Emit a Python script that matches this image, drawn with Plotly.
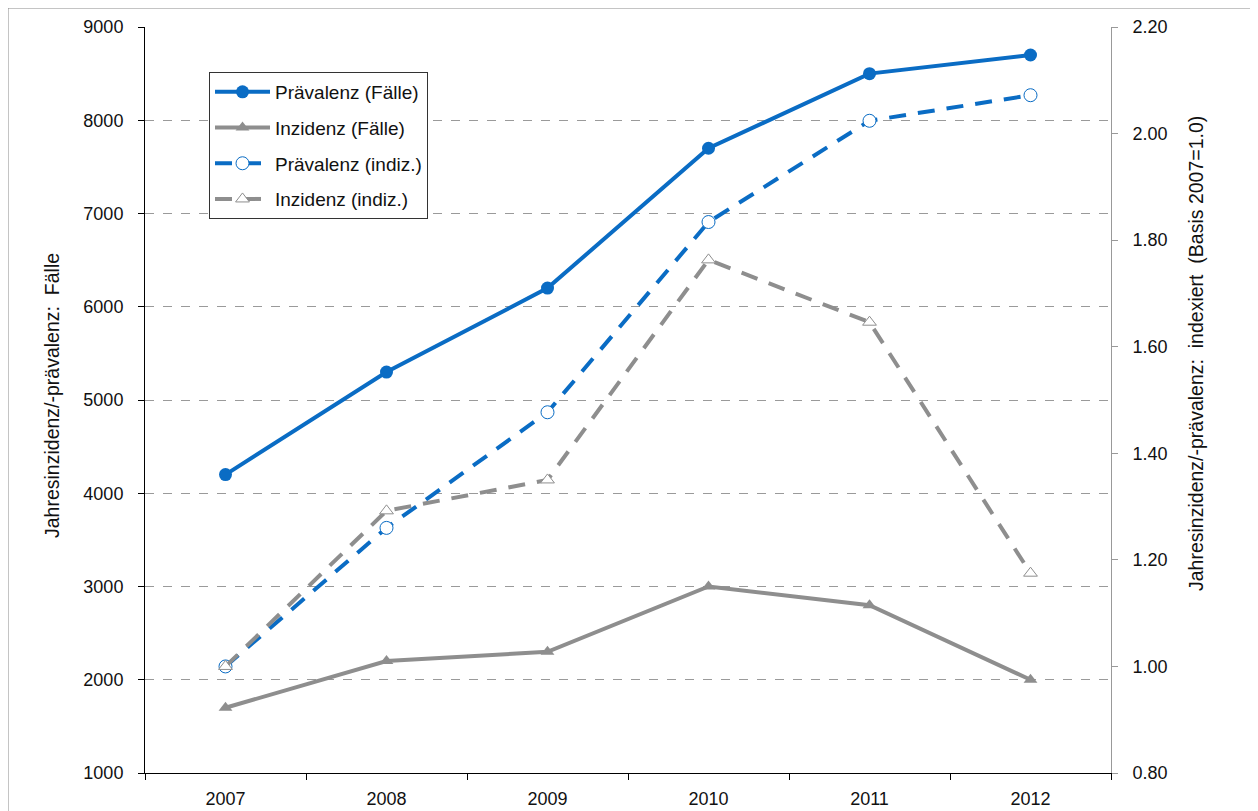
import plotly.graph_objects as go

years = ["2007", "2008", "2009", "2010", "2011", "2012"]
prev_cases = [4200, 5300, 6200, 7700, 8500, 8700]
inz_cases = [1700, 2200, 2300, 3000, 2800, 2000]
prev_index = [1.00, 1.26, 1.477, 1.834, 2.024, 2.072]
inz_index = [1.00, 1.292, 1.35, 1.763, 1.646, 1.175]

BLUE = "#0A6CC4"
GRAY = "#8E8E8E"
FONT = "Liberation Sans, Arial, sans-serif"
DASH = "17px,12px"

fig = go.Figure()
fig.add_trace(go.Scatter(x=years, y=prev_cases, name="Prävalenz (Fälle)", mode="lines+markers", legendgroup="a",
                         line=dict(color=BLUE, width=4), marker=dict(symbol="circle", size=13, color=BLUE)))
fig.add_trace(go.Scatter(x=years, y=inz_cases, name="Inzidenz (Fälle)", mode="lines+markers", legendgroup="b",
                         line=dict(color=GRAY, width=4), marker=dict(symbol="triangle-up", size=12, color=GRAY)))
fig.add_trace(go.Scatter(x=years, y=prev_index, name="Prävalenz (indiz.)", mode="lines+markers", yaxis="y2", legendgroup="c",
                         line=dict(color=BLUE, width=4, dash=DASH),
                         marker=dict(symbol="circle", size=13, color="white", line=dict(color=BLUE, width=1))))
fig.add_trace(go.Scatter(x=years, y=inz_index, name="Inzidenz (indiz.)", mode="lines+markers", yaxis="y2", legendgroup="d",
                         line=dict(color=GRAY, width=4, dash=DASH),
                         marker=dict(symbol="triangle-up", size=12, color="white", line=dict(color=GRAY, width=1))))

# page is offset by the browser's 8px body margin
OFF = 8
W, H = 1258 - OFF, 811 - OFF
PL, PR, PT, PB = 145, 1111, 27, 773  # plot area in page coordinates
L = PL - OFF
R = W - (PR - OFF)
T = PT - OFF
B = H - (PB - OFF)
pw = W - L - R
ph = H - T - B

def px(x):
    return (x - OFF - L) / pw

def py(y):
    return (H - B - (y - OFF)) / ph

fig.update_layout(
    width=W, height=H,
    margin=dict(l=L, r=R, t=T, b=B, pad=0, autoexpand=False),
    paper_bgcolor="white", plot_bgcolor="white",
    font=dict(family=FONT, size=18, color="#111"),
    showlegend=True,
    legend=dict(x=px(209), y=py(72), xanchor="left", yanchor="top",
                bordercolor="#333", borderwidth=1, bgcolor="white",
                font=dict(size=19), tracegroupgap=8, itemwidth=55),
    xaxis=dict(type="category", tickson="boundaries", ticks="outside", ticklen=6, tickcolor="#000",
               showline=True, linecolor="#000", linewidth=1, showgrid=False, automargin=False,
               range=[-0.5, 5.5], tickfont=dict(size=18), ticklabelstandoff=9),
    yaxis=dict(range=[1000, 9000], dtick=1000, ticks="outside", ticklen=6, tickcolor="#000",
               showline=True, linecolor="#000", linewidth=1, automargin=False,
               showgrid=True, gridcolor="#9a9a9a", griddash="dash", gridwidth=1,
               zeroline=False, tickfont=dict(size=18), ticklabelstandoff=11),
    yaxis2=dict(range=[0.8, 2.2], dtick=0.2, tickformat=".2f", overlaying="y", side="right",
                ticks="outside", ticklen=6, tickcolor="#999", automargin=False,
                showline=True, linecolor="#999", linewidth=1, showgrid=False, zeroline=False,
                tickfont=dict(size=18), ticklabelstandoff=11),
    annotations=[
        dict(text="Jahresinzidenz/-prävalenz:  Fälle",
             xref="paper", yref="paper", x=px(52), y=py(396),
             xanchor="center", yanchor="middle", textangle=-90, showarrow=False,
             font=dict(size=19.5, color="#111")),
        dict(text="Jahresinzidenz/-prävalenz:  indexiert  (Basis 2007=1.0)",
             xref="paper", yref="paper", x=px(1196), y=py(354),
             xanchor="center", yanchor="middle", textangle=-90, showarrow=False,
             font=dict(size=19.5, color="#111")),
    ],
    shapes=[dict(type="rect", xref="paper", yref="paper",
                 x0=px(8), x1=px(1254), y0=py(812), y1=py(8),
                 line=dict(color="#8a8a8a", width=1), fillcolor="rgba(0,0,0,0)", layer="below")],
)

fig.write_html("out.html")
